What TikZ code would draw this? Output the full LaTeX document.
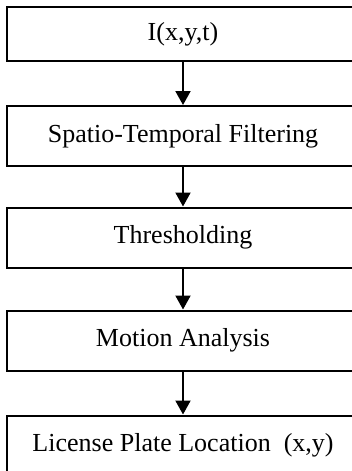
\documentclass[tikz,border=0pt]{standalone}
\usepackage{fontspec}
\setmainfont{Liberation Serif}
\usetikzlibrary{arrows.meta}
\usetikzlibrary{positioning}
\tikzset{
	>={Triangle[length=7pt,width=7.5pt]},
	stage/.style={draw=black, line width=1pt, minimum width=176.5pt,
		minimum height=30pt, inner sep=0pt, font=\fontsize{13}{15}\selectfont},
	flow/.style={->, draw=black, line width=1pt},
}

\begin{document}
\begin{tikzpicture}[x=0.5pt, y=-0.5pt]
\useasboundingbox (0,0) rectangle (352,471);

\node[stage, minimum height=27pt] (input) at (183,34) {I(x,y,t)};
\node[stage] (filter) at (183,136) {Spatio-Temporal Filtering};
\node[stage] (thresh) at (183,237.5) {Thresholding};
\node[stage] (motion) at (183,340.5) {Motion Analysis};
\node[stage] (plate) at (183,445.5) {License Plate Location\ \ (x,y)};

\draw[flow] (input) -- (filter);
\draw[flow] (filter) -- (thresh);
\draw[flow] (thresh) -- (motion);
\draw[flow] (motion) -- (plate);
\end{tikzpicture}
\end{document}
